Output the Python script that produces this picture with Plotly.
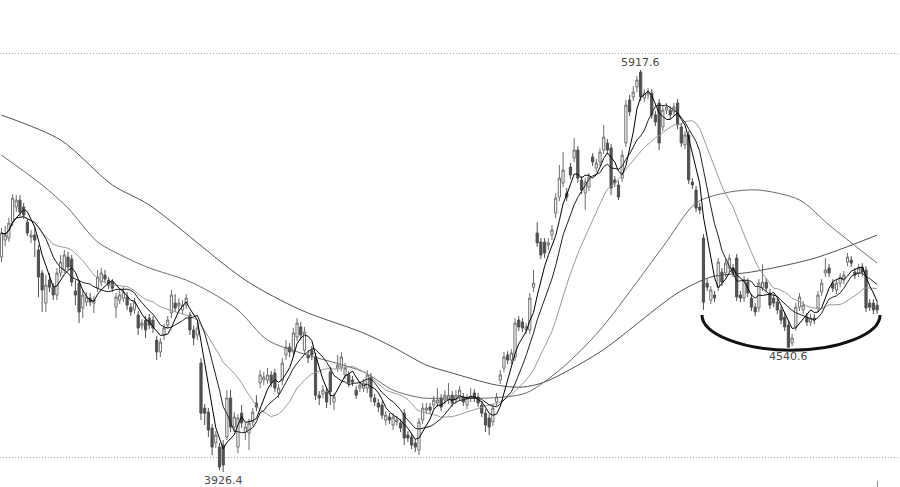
import plotly.graph_objects as go
import pandas as pd

opens = [4991,5075,5085,5164,5239,5273,5239,5164,5090,5100,5026,4912,4763,4877,4842,4803,4912,4927,4991,4981,
4823,4862,4739,4768,4788,4763,4837,4867,4902,4877,4867,4743,4778,4788,4793,4743,4729,4704,4650,4679,
4689,4679,4580,4521,4605,4654,4714,4763,4748,4729,4753,4704,4630,4605,4466,4243,4223,4144,4070,4050,
4060,4100,4293,4149,4050,4218,4124,4119,4174,4268,4367,4382,4382,4407,4417,4318,4382,4506,4545,4521,
4595,4645,4530,4506,4530,4496,4307,4313,4323,4422,4273,4441,4446,4407,4407,4382,4332,4342,4342,4342,
4397,4293,4268,4258,4184,4199,4159,4174,4169,4218,4110,4100,4070,4035,4184,4233,4248,4258,4268,4293,
4283,4283,4307,4283,4298,4298,4258,4293,4318,4298,4258,4218,4194,4174,4273,4382,4441,4506,4481,4496,
4679,4669,4630,4630,4842,5110,5066,5066,5051,5100,5209,5288,5358,5308,5437,5482,5521,5373,5308,5338,
5487,5432,5462,5521,5556,5531,5373,5348,5382,5556,5769,5784,5833,5907,5779,5794,5803,5695,5754,5635,
5719,5719,5710,5754,5635,5546,5596,5363,5323,5239,5085,4862,4778,4803,4842,4917,4912,4937,4937,4986,
4803,4788,4867,4788,4743,4739,4842,4867,4813,4788,4768,4729,4694,4654,4565,4645,4743,4729,4694,4669,
4689,4739,4818,4912,4937,4862,4828,4862,4877,4966,4976,4917,4912,4942,4927,4763,4763,4753]
highs = [5135,5145,5184,5303,5298,5298,5259,5184,5125,5135,5051,4927,4902,4912,4862,4937,5001,5026,5016,5001,
4877,4877,4828,4818,4813,4798,4927,4937,4927,4892,4882,4813,4828,4842,4818,4763,4788,4724,4684,4699,
4709,4699,4600,4590,4659,4699,4828,4808,4788,4778,4808,4719,4650,4669,4491,4263,4243,4164,4129,4070,
4085,4332,4332,4223,4213,4258,4169,4189,4243,4307,4431,4422,4441,4427,4436,4362,4491,4580,4565,4640,
4689,4669,4645,4530,4550,4516,4327,4357,4342,4446,4318,4506,4521,4466,4427,4402,4352,4377,4387,4431,
4417,4313,4288,4278,4228,4218,4218,4204,4189,4238,4129,4119,4090,4194,4268,4268,4268,4303,4342,4313,
4332,4367,4327,4332,4352,4318,4313,4342,4337,4318,4278,4238,4213,4263,4318,4431,4521,4525,4535,4689,
4699,4689,4664,4813,4927,5164,5085,5085,5085,5150,5308,5447,5511,5333,5457,5581,5541,5392,5382,5407,
5506,5477,5531,5645,5576,5551,5392,5368,5521,5769,5794,5838,5888,5917.6,5823,5828,5823,5714,5774,5739,
5754,5739,5754,5774,5655,5615,5615,5382,5343,5259,5105,4882,4847,4823,4986,4937,4981,5006,4956,5006,
4823,4897,4887,4808,4763,4882,4956,4887,4833,4808,4788,4748,4714,4674,4610,4763,4813,4773,4714,4709,
4709,4823,4882,4986,4956,4882,4882,4912,4922,5011,4996,4937,4956,4961,4946,4783,4783,4773]
lows = [4966,5046,5066,5145,5214,5194,5179,5095,5061,4991,4793,4719,4719,4818,4778,4778,4892,4912,4927,4847,
4753,4664,4689,4748,4748,4714,4818,4847,4862,4833,4818,4689,4758,4768,4729,4699,4709,4605,4630,4590,
4635,4615,4481,4496,4580,4635,4689,4719,4719,4709,4734,4605,4555,4580,4184,4159,4100,4010,4045,3936,
3926.4,4085,4124,4124,4020,4144,4085,4035,4154,4228,4342,4357,4362,4347,4323,4293,4357,4481,4496,4496,
4575,4580,4506,4466,4481,4283,4258,4293,4243,4258,4233,4422,4427,4387,4347,4352,4288,4323,4323,4318,
4273,4253,4223,4189,4159,4164,4134,4154,4124,4060,4075,4040,4025,4010,4164,4213,4213,4238,4248,4228,
4263,4263,4248,4263,4278,4253,4238,4273,4273,4248,4199,4124,4110,4154,4253,4362,4422,4461,4461,4476,
4625,4620,4610,4610,4818,5041,4981,4986,5026,5075,5184,5268,5338,5268,5377,5462,5358,5303,5224,5318,
5442,5412,5442,5501,5501,5298,5338,5273,5363,5536,5690,5764,5808,5764,5759,5774,5675,5640,5521,5615,
5699,5675,5690,5625,5536,5526,5353,5328,5214,5204,4729,4823,4758,4768,4823,4847,4892,4917,4892,4773,
4768,4768,4793,4724,4699,4719,4823,4818,4734,4743,4709,4659,4625,4540.6,4550,4625,4724,4709,4650,4650,
4659,4719,4798,4892,4892,4818,4808,4842,4857,4946,4942,4882,4892,4897,4719,4724,4709,4709]
closes = [5110,5100,5159,5283,5273,5214,5199,5110,5100,5075,4892,4828,4852,4842,4803,4912,4966,5001,4942,4867,
4803,4719,4803,4793,4768,4778,4892,4912,4882,4852,4837,4793,4803,4818,4753,4719,4768,4640,4664,4630,
4654,4640,4521,4570,4640,4679,4803,4739,4763,4753,4788,4630,4590,4640,4218,4218,4134,4050,4110,3951,
3961,4293,4149,4199,4194,4169,4149,4169,4223,4248,4407,4397,4407,4367,4342,4342,4466,4545,4521,4615,
4664,4605,4620,4491,4506,4307,4293,4332,4273,4323,4298,4456,4496,4441,4367,4372,4307,4357,4367,4407,
4298,4273,4248,4208,4208,4184,4199,4184,4144,4095,4095,4060,4050,4174,4243,4243,4233,4283,4283,4248,
4307,4307,4268,4307,4332,4273,4293,4298,4293,4268,4218,4159,4149,4243,4298,4407,4496,4481,4516,4664,
4645,4640,4645,4788,4862,5061,5001,5011,5061,5125,5283,5382,5422,5288,5397,5521,5382,5323,5363,5387,
5462,5457,5511,5585,5521,5333,5358,5288,5496,5744,5710,5808,5868,5784,5803,5808,5695,5660,5556,5719,
5734,5695,5734,5645,5556,5596,5373,5348,5234,5224,4768,4842,4828,4788,4966,4867,4961,4986,4912,4793,
4788,4877,4813,4743,4719,4862,4867,4837,4753,4763,4729,4679,4645,4545,4590,4743,4793,4753,4669,4689,
4679,4803,4862,4927,4912,4837,4862,4892,4902,4991,4961,4902,4937,4917,4739,4743,4729,4729]

# longer moving averages (candle index, value)
ma60_idx = [0, 11, 18, 26, 34, 40, 50, 57, 64, 72, 81, 98, 106, 114, 121, 132, 142, 152, 162, 179, 188, 197, 205, 216, 224, 237]
ma60_val = [5496, 5348, 5234, 5066, 4986, 4937, 4877, 4813, 4729, 4580, 4516, 4422, 4332, 4293, 4293, 4293, 4318, 4446, 4630, 5041, 5259, 5313, 5323, 5274, 5150, 4961]
ma120_idx = [0, 16, 30, 40, 66, 81, 98, 106, 115, 121, 134, 141, 147, 162, 183, 192, 203, 220, 237]
ma120_val = [5694, 5571, 5348, 5249, 4877, 4729, 4615, 4545, 4456, 4422, 4357, 4347, 4372, 4521, 4813, 4892, 4917, 4985, 5100]

n = len(closes)
idx = list(range(n))
cs = pd.Series(closes)
ma5 = cs.rolling(5, min_periods=1).mean()
ma10 = cs.rolling(10, min_periods=1).mean()
ma20 = cs.rolling(20, min_periods=1).mean()

fig = go.Figure()
fig.add_trace(go.Candlestick(
    x=idx, open=opens, high=highs, low=lows, close=closes,
    increasing=dict(line=dict(color="#6e6e6e", width=1), fillcolor="#ffffff"),
    decreasing=dict(line=dict(color="#505050", width=1), fillcolor="#505050"),
    whiskerwidth=0, showlegend=False, hoverinfo="skip"))

fig.add_trace(go.Scatter(x=ma120_idx, y=ma120_val, mode="lines", line=dict(color="#505050", width=1, shape="spline", smoothing=0.8), showlegend=False, hoverinfo="skip"))
fig.add_trace(go.Scatter(x=ma60_idx, y=ma60_val, mode="lines", line=dict(color="#6a6a6a", width=1, shape="spline", smoothing=0.8), showlegend=False, hoverinfo="skip"))
fig.add_trace(go.Scatter(x=idx, y=ma20, mode="lines", line=dict(color="#9a9a9a", width=1), showlegend=False, hoverinfo="skip"))
fig.add_trace(go.Scatter(x=idx, y=ma10, mode="lines", line=dict(color="#202020", width=1), showlegend=False, hoverinfo="skip"))
fig.add_trace(go.Scatter(x=idx, y=ma5, mode="lines", line=dict(color="#000000", width=1), showlegend=False, hoverinfo="skip"))

# hand-drawn bowl under the right part
fig.add_shape(type="path", xref="x", yref="y",
    path="M 189.6,4704 C 189.6,4610 200.5,4530 213.7,4530 C 227,4530 237.8,4610 237.8,4704",
    line=dict(color="#111111", width=3))

label_font = dict(family="DejaVu Sans, Verdana, sans-serif", size=11, color="#4a4a4a")
fig.add_annotation(x=173, y=5917.6, text="5917.6", showarrow=False, yanchor="bottom", yshift=-1, font=label_font)
fig.add_annotation(x=60, y=3926.4, text="3926.4", showarrow=False, yanchor="top", yshift=0, font=label_font)
fig.add_annotation(x=213, y=4540.6, text="4540.6", showarrow=False, yanchor="top", yshift=0, font=label_font)

fig.update_layout(
    width=900, height=487, margin=dict(l=0, r=0, t=0, b=7),
    paper_bgcolor="white", plot_bgcolor="white", showlegend=False, boxgap=0.15,
    xaxis=dict(range=[-0.406, 243.2], rangeslider=dict(visible=False), showgrid=False, zeroline=False,
               showline=False, tickvals=[237], ticks="outside", ticklen=6, tickcolor="#888888",
               showticklabels=False),
    yaxis=dict(range=[3886.9, 6264.3], tickvals=[4000, 6000], showticklabels=False, showgrid=True,
               gridcolor="#a8a8a8", griddash="1px,2px", gridwidth=1, zeroline=False, showline=False, ticks=""),
)
fig.write_html("out.html", config={"displayModeBar": False, "staticPlot": True},
               post_script="document.body.style.margin='0';document.body.style.overflow='hidden';")
